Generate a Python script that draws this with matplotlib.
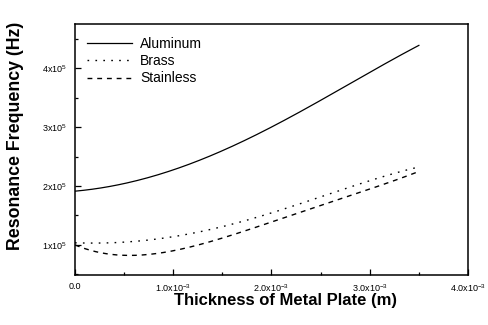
import numpy as np
import matplotlib
matplotlib.use("Agg")
import matplotlib.pyplot as plt
from matplotlib.ticker import FixedLocator, MultipleLocator

plt.rcParams['font.family'] = ['Liberation Sans', 'DejaVu Sans']
plt.rcParams['mathtext.fontset'] = 'custom'
plt.rcParams['mathtext.rm'] = 'Liberation Sans'
plt.rcParams['mathtext.it'] = 'Liberation Sans'
plt.rcParams['mathtext.bf'] = 'Liberation Sans:bold'
plt.rcParams['mathtext.default'] = 'regular'

# Plate thickness (m)
thickness_al = np.array([0.0, 0.5, 1.0, 1.5, 2.0, 2.5, 3.0, 3.5]) * 1e-3
freq_al = np.array([1.91, 2.05, 2.27, 2.59, 3.01, 3.46, 3.92, 4.39]) * 1e5

thickness = np.array([0.0, 0.25, 0.5, 0.75, 1.0, 1.25, 1.5, 1.75, 2.0,
                      2.25, 2.5, 2.75, 3.0, 3.25, 3.5]) * 1e-3
freq_brass = np.array([1.04, 1.03, 1.04, 1.08, 1.15, 1.23, 1.31, 1.41, 1.53,
                       1.68, 1.82, 1.97, 2.09, 2.20, 2.33]) * 1e5
freq_stainless = np.array([1.00, 0.88, 0.82, 0.82, 0.91, 1.00, 1.13, 1.26, 1.38,
                           1.52, 1.66, 1.81, 1.96, 2.10, 2.24]) * 1e5

x_ticks = [0.0, 1e-3, 2e-3, 3e-3, 4e-3]
x_tick_labels = ['0.0', r'1.0x10$^{-3}$', r'2.0x10$^{-3}$', r'3.0x10$^{-3}$', r'4.0x10$^{-3}$']
y_ticks = [1e5, 2e5, 3e5, 4e5]
y_tick_labels = [r'1x10$^5$', r'2x10$^5$', r'3x10$^5$', r'4x10$^5$']


def smooth(x, y, n=200):
    xs = np.linspace(x[0], x[-1], n)
    coef = np.polyfit(x, y, 4)
    return xs, np.polyval(coef, xs)


fig = plt.figure(figsize=(4.89, 3.25), dpi=100)
ax = fig.add_axes([75 / 489, 1 - 275 / 325, (468 - 75) / 489, (275 - 24) / 325])

xs, ys = smooth(thickness_al, freq_al)
ax.plot(xs, ys, color='black', lw=0.9, ls='-', label='Aluminum')
xs, ys = smooth(thickness, freq_brass)
ax.plot(xs, ys, color='black', lw=1.0, ls=(0, (1.2, 4.5)), label='Brass')
xs, ys = smooth(thickness, freq_stainless)
ax.plot(xs, ys, color='black', lw=1.0, ls=(0, (3.5, 3.5)), label='Stainless')

ax.set_xlim(0, 4e-3)
ax.set_ylim(0.49e5, 4.75e5)

ax.xaxis.set_major_locator(FixedLocator(x_ticks))
ax.set_xticklabels(x_tick_labels)
ax.xaxis.set_minor_locator(MultipleLocator(0.5e-3))
ax.yaxis.set_major_locator(FixedLocator(y_ticks))
ax.set_yticklabels(y_tick_labels)
ax.yaxis.set_minor_locator(MultipleLocator(0.5e5))

ax.tick_params(which='both', direction='in', labelsize=6.5, width=0.9)
ax.tick_params(which='major', length=4)
ax.tick_params(which='minor', length=2.5)
ax.tick_params(axis='x', pad=5)
ax.tick_params(axis='y', pad=6)
for s in ax.spines.values():
    s.set_linewidth(1.1)

ax.set_xlabel('Thickness of Metal Plate (m)', fontsize=12, fontweight='bold')
ax.xaxis.set_label_coords(0.535, -0.07)
ax.set_ylabel('Resonance Frequency (Hz)', fontsize=12.8, fontweight='bold')
ax.yaxis.set_label_coords(-0.13, 0.555)

leg = ax.legend(loc='upper left', frameon=False, fontsize=10, handlelength=3.2,
                handletextpad=0.6, labelspacing=0.25, borderaxespad=0.5,
                bbox_to_anchor=(0.0, 1.0))

fig.savefig('out.png', dpi=100)
